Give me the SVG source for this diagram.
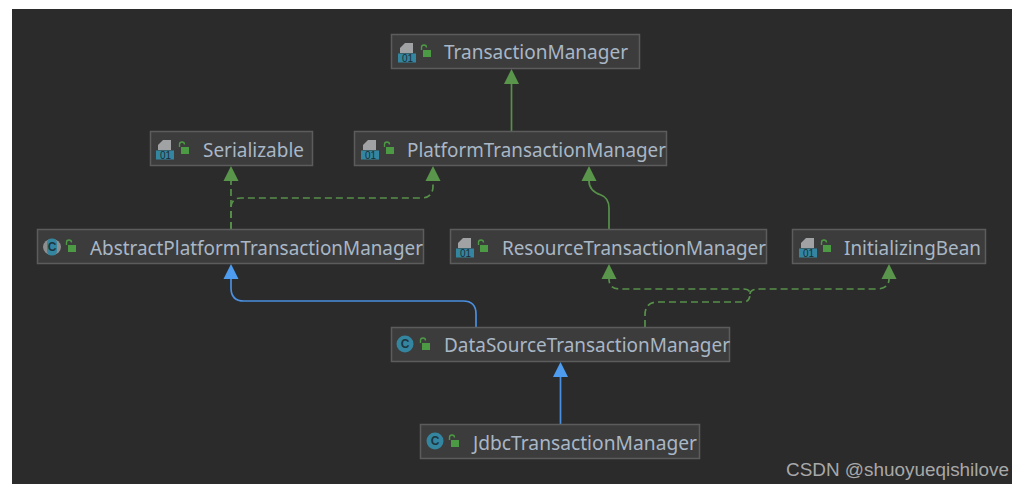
<svg xmlns="http://www.w3.org/2000/svg" width="1024" height="490" viewBox="0 0 1024 490">
<style>
.box{fill:#3c3c3c;stroke:#5c5c5c;stroke-width:1.5}
.lbl{font-family:"Noto Sans","Open Sans","Liberation Sans",sans-serif;font-size:19px;fill:#a9b7c6}
.g{fill:none;stroke:#57904a;stroke-width:1.7}
.d{stroke-dasharray:7 4}
.b{fill:none;stroke:#4a8fe0;stroke-width:1.7}
.ag{fill:#59964b}
.ab{fill:#4d9cf0}
.lock{fill:#4d9a45}
.lk{fill:none;stroke:#4d9a45;stroke-width:1.4}
.ic{fill:#34859f}
.it{font-family:"Liberation Sans",sans-serif;font-size:10px;fill:#1d2c33}
.ict{font-family:"Liberation Sans",sans-serif;font-size:12px;font-weight:bold;fill:#1d3540}
.pg{fill:#a0a2a4}
</style>
<defs>
<g id="iface">
<path class="pg" d="M0 0l5-5h8v10H0z"/>
<rect class="ic" x="-2" y="5.500" width="18" height="9"/>
<text class="it" x="2" y="13.500">01</text>
</g>
<g id="lock">
<rect class="lock" x="0" y="0" width="8" height="7"/>
<path class="lk" d="M-1.500 0v-2.500a2.500 2.500 0 0 1 5 0"/>
</g>
<g id="cls">
<circle class="ic" cx="0" cy="0" r="8.500"/>
<text class="ict" x="0" y="4.200" text-anchor="middle">C</text>
</g>
<g id="acls">
<ellipse cx="0" cy="0" rx="9" ry="8" fill="#8c8e90"/>
<rect class="ic" x="-5" y="-8.500" width="10" height="17" rx="4.500"/>
<text class="ict" x="0" y="4.200" text-anchor="middle">C</text>
</g>
</defs>
<rect width="1024" height="490" fill="#fff"/>
<rect x="12" y="9" width="1000" height="475" fill="#2b2b2b"/>
<g id="connectors">
<path class="g" d="M511.500 131V84"/>
<path class="ag" d="M511.500 69l7.500 15h-15z"/>
<path class="g d" d="M231 229V181"/>
<path class="ag" d="M231 166l7.500 15h-15z"/>
<path class="g d" d="M231 229V208q0-10 10-10h180q12 0 12-12v-5"/>
<path class="ag" d="M433 166l7.500 15h-15z"/>
<path class="g" d="M609 229V208q0-10-8-13q-12-4-12-14"/>
<path class="ag" d="M589 166l7.500 15h-15z"/>
<path class="b" d="M476 327V314q0-13-13-13H244q-13 0-13-13V279"/>
<path class="ab" d="M231 264l7.500 15h-15z"/>
<path class="g d" d="M645 327V315q0-13 13-13h85q7 0 7-8q0-5-7-5H620q-11 0-11-10"/>
<path class="ag" d="M609 264l7.500 15h-15z"/>
<path class="g d" d="M750 294q0-5 10-5H876q13 0 13-10"/>
<path class="ag" d="M889 264l7.500 15h-15z"/>
<path class="b" d="M560.500 424V377"/>
<path class="ab" d="M560.500 362l7.500 15h-15z"/>
</g>
<g id="n-transaction-manager">
<rect class="box" x="391.500" y="34.500" width="248" height="34"/>
<use href="#iface" x="400" y="48"/><use href="#lock" x="423" y="50"/>
<text class="lbl" x="444" y="59" textLength="184" lengthAdjust="spacingAndGlyphs">TransactionManager</text>
</g>
<g id="n-serializable">
<rect class="box" x="150.500" y="131.500" width="162" height="34"/>
<use href="#iface" x="158" y="145"/><use href="#lock" x="181" y="147"/>
<text class="lbl" x="203" y="157" textLength="101" lengthAdjust="spacingAndGlyphs">Serializable</text>
</g>
<g id="n-platform-transaction-manager">
<rect class="box" x="354.500" y="131.500" width="312" height="34"/>
<use href="#iface" x="363" y="145"/><use href="#lock" x="386" y="147"/>
<text class="lbl" x="407" y="157" textLength="259" lengthAdjust="spacingAndGlyphs">PlatformTransactionManager</text>
</g>
<g id="n-abstract-platform-transaction-manager">
<rect class="box" x="37.500" y="229.500" width="386" height="34"/>
<use href="#acls" x="52" y="247"/><use href="#lock" x="68" y="245"/>
<text class="lbl" x="90" y="254.500" textLength="333" lengthAdjust="spacingAndGlyphs">AbstractPlatformTransactionManager</text>
</g>
<g id="n-resource-transaction-manager">
<rect class="box" x="450.500" y="229.500" width="316" height="34"/>
<use href="#iface" x="458" y="243"/><use href="#lock" x="480" y="245"/>
<text class="lbl" x="502" y="254.500" textLength="264" lengthAdjust="spacingAndGlyphs">ResourceTransactionManager</text>
</g>
<g id="n-initializing-bean">
<rect class="box" x="792.500" y="229.500" width="193" height="34"/>
<use href="#iface" x="801" y="243"/><use href="#lock" x="823" y="245"/>
<text class="lbl" x="844" y="254.500" textLength="137" lengthAdjust="spacingAndGlyphs">InitializingBean</text>
</g>
<g id="n-data-source-transaction-manager">
<rect class="box" x="391.500" y="327.500" width="338" height="34"/>
<use href="#cls" x="405" y="344"/><use href="#lock" x="422" y="343"/>
<text class="lbl" x="444" y="352" textLength="286" lengthAdjust="spacingAndGlyphs">DataSourceTransactionManager</text>
</g>
<g id="n-jdbc-transaction-manager">
<rect class="box" x="420.500" y="424.500" width="279" height="34"/>
<use href="#cls" x="435" y="441"/><use href="#lock" x="451" y="440"/>
<text class="lbl" x="473" y="449.500" textLength="224" lengthAdjust="spacingAndGlyphs">JdbcTransactionManager</text>
</g>
<text x="786" y="476" font-family="'Liberation Sans',sans-serif" font-size="18" fill="#a8a8a8" textLength="223" lengthAdjust="spacingAndGlyphs">CSDN @shuoyueqishilove</text>
</svg>
